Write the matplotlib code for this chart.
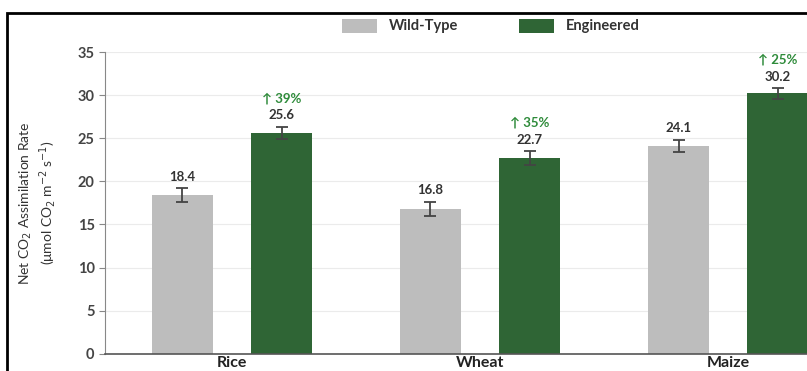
import numpy as np
import matplotlib.pyplot as plt
from matplotlib.patches import Rectangle

plt.rcParams["font.family"] = ["Lato", "DejaVu Sans"]

# data
crops = ["Rice", "Wheat", "Maize"]
wild_type = [18.4, 16.8, 24.1]
engineered = [25.6, 22.7, 30.2]
wild_err = [0.8, 0.8, 0.7]
eng_err = [0.7, 0.8, 0.6]
gains = ["39%", "35%", "25%"]

GRAY = "#bdbdbd"
GREEN = "#2f6535"
PCT_GREEN = "#2e8b3a"
TEXT = "#333333"

fig = plt.figure(figsize=(8.07, 3.71), dpi=100)
ax = fig.add_axes([105 / 807, 17.3 / 371, 702 / 807, 301.7 / 371])

x = np.arange(len(crops))
w = 0.246
off = 0.2

ax.bar(x - off, wild_type, w, color=GRAY, label="Wild-Type", zorder=2)
ax.bar(x + off, engineered, w, color=GREEN, label="Engineered", zorder=2)
ax.errorbar(x - off, wild_type, yerr=wild_err, fmt="none", ecolor="#444444",
            elinewidth=1.3, capsize=4, capthick=1.3, zorder=3)
ax.errorbar(x + off, engineered, yerr=eng_err, fmt="none", ecolor="#444444",
            elinewidth=1.3, capsize=4, capthick=1.3, zorder=3)

# value labels
for xi, v, e in zip(x - off, wild_type, wild_err):
    ax.annotate(f"{v:.1f}", (xi, v + e), xytext=(0, 4), textcoords="offset points",
                ha="center", va="bottom", fontsize=9.5, fontweight="bold", color=TEXT)
for xi, v, e, g in zip(x + off, engineered, eng_err, gains):
    ax.annotate(f"{v:.1f}", (xi, v + e), xytext=(0, 4), textcoords="offset points",
                ha="center", va="bottom", fontsize=9.5, fontweight="bold", color=TEXT)
    ax.annotate(f"\u2191 {g}", (xi, v + e), xytext=(0, 16), textcoords="offset points",
                ha="center", va="bottom", fontsize=9.5, fontweight="bold", color=PCT_GREEN,
                annotation_clip=False)

ax.set_xlim(-0.512, 2.318)
ax.set_ylim(0, 35)
ax.set_yticks(np.arange(0, 36, 5))
ax.set_xticks(x)
ax.set_xticklabels(crops, fontsize=11.5, fontweight="bold", color="#222222")
ax.tick_params(axis="x", length=0, pad=1.5)
ax.tick_params(axis="y", length=4, color="#888888", labelsize=10.5, labelcolor="#444444")
for lbl in ax.get_yticklabels():
    lbl.set_fontweight("bold")

ax.grid(axis="y", color="#ebebeb", linewidth=0.8, zorder=0)
ax.set_axisbelow(True)
for s in ["top", "right"]:
    ax.spines[s].set_visible(False)
ax.spines["left"].set_color("#888888")
ax.spines["bottom"].set_color("#555555")
ax.spines["bottom"].set_linewidth(1.2)

ax.set_ylabel("Net CO$_2$ Assimilation Rate\n(\u03bcmol CO$_2$ m$^{-2}$ s$^{-1}$)",
              fontsize=10, color="#333333", labelpad=14)

leg = fig.legend(loc="center", bbox_to_anchor=(491 / 807, 1 - 26 / 371), ncol=2,
                 frameon=False, handlelength=2.4, handleheight=1.1, handletextpad=0.8,
                 columnspacing=4.2, prop={"weight": "bold", "size": 10.5})
for t in leg.get_texts():
    t.set_color(TEXT)

# outer frame (cropped on right and bottom)
fig.patches.append(Rectangle((7 / 807, -0.1), 1.2, 1 - 13 / 371 + 0.1,
                             transform=fig.transFigure, fill=False,
                             edgecolor="black", linewidth=2, zorder=10))

fig.savefig("out.png", dpi=100)
